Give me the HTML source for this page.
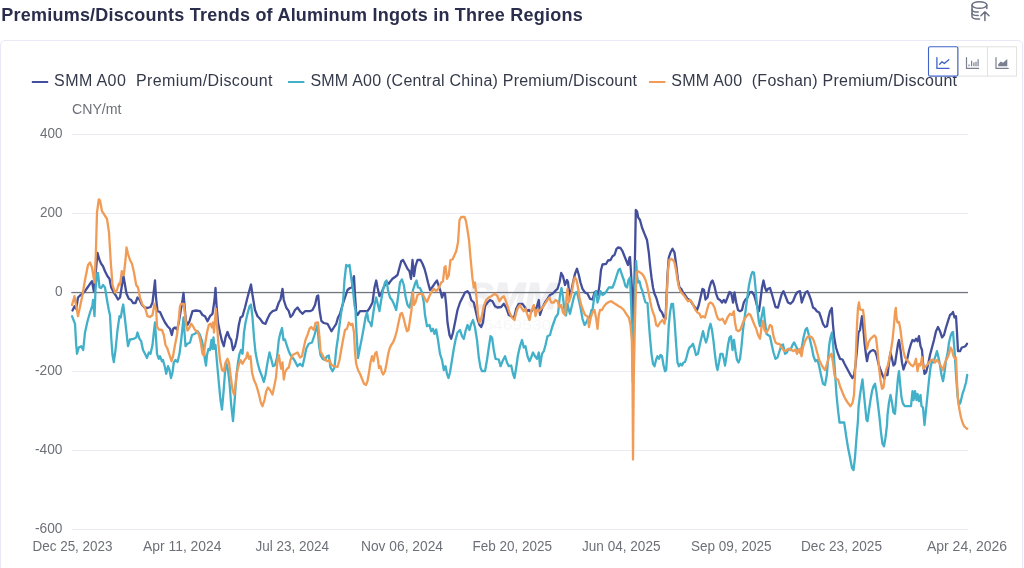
<!DOCTYPE html>
<html lang="en"><head><meta charset="utf-8"><title>Premiums/Discounts Trends of Aluminum Ingots in Three Regions</title>
<style>
html,body{margin:0;padding:0;background:#fff;}
body{width:1024px;height:568px;overflow:hidden;position:relative;font-family:"Liberation Sans",sans-serif;}
.card{position:absolute;left:0;top:40px;width:1021px;height:560px;border:1px solid #e9e9f6;border-radius:5px;background:#fff;}
.chart{position:absolute;left:0;top:0;}
.chart text{font-family:"Liberation Sans",sans-serif;}
.ax{font-size:14.4px;fill:#6e7079;}
.lg{font-size:16px;fill:#353a4a;}
.ttl{font-size:18px;font-weight:bold;fill:#2a2d4b;}
</style></head><body>
<div class="card"></div>
<svg class="chart" width="1024" height="568" viewBox="0 0 1024 568">
<rect x="72" y="134" width="896" height="1" fill="#ebebf6"/>
<rect x="72" y="213" width="896" height="1" fill="#ebebf6"/>
<rect x="72" y="371" width="896" height="1" fill="#ebebf6"/>
<rect x="72" y="450" width="896" height="1" fill="#ebebf6"/>
<rect x="72" y="529" width="896" height="1" fill="#ebebf6"/>
<text x="468" y="309" font-weight="bold" font-style="italic" font-size="37" fill="#f0f0f3" stroke="#f0f0f3" stroke-width="1.2" textLength="89" lengthAdjust="spacingAndGlyphs">SMM</text>
<text x="464" y="329.5" font-size="14" fill="#f7f7f8" textLength="97" lengthAdjust="spacingAndGlyphs">1064695306</text>
<rect x="71.3" y="291.9" width="896.7" height="1.3" fill="#71737d"/>
<text x="40.0" y="137.6" class="ax" textLength="22.5" lengthAdjust="spacingAndGlyphs">400</text>
<text x="40.0" y="216.6" class="ax" textLength="22.5" lengthAdjust="spacingAndGlyphs">200</text>
<text x="54.9" y="295.6" class="ax" textLength="7.6" lengthAdjust="spacingAndGlyphs">0</text>
<text x="35.0" y="374.6" class="ax" textLength="27.5" lengthAdjust="spacingAndGlyphs">-200</text>
<text x="35.0" y="453.6" class="ax" textLength="27.5" lengthAdjust="spacingAndGlyphs">-400</text>
<text x="35.0" y="532.6" class="ax" textLength="27.5" lengthAdjust="spacingAndGlyphs">-600</text>
<text x="32.5" y="550.5" class="ax" textLength="80.0" lengthAdjust="spacingAndGlyphs">Dec 25, 2023</text>
<text x="143" y="550.5" class="ax" textLength="78.5" lengthAdjust="spacingAndGlyphs">Apr 11, 2024</text>
<text x="255.5" y="550.5" class="ax" textLength="73.5" lengthAdjust="spacingAndGlyphs">Jul 23, 2024</text>
<text x="361" y="550.5" class="ax" textLength="82" lengthAdjust="spacingAndGlyphs">Nov 06, 2024</text>
<text x="472.5" y="550.5" class="ax" textLength="79.5" lengthAdjust="spacingAndGlyphs">Feb 20, 2025</text>
<text x="582" y="550.5" class="ax" textLength="78.5" lengthAdjust="spacingAndGlyphs">Jun 04, 2025</text>
<text x="691" y="550.5" class="ax" textLength="80.5" lengthAdjust="spacingAndGlyphs">Sep 09, 2025</text>
<text x="801" y="550.5" class="ax" textLength="81" lengthAdjust="spacingAndGlyphs">Dec 23, 2025</text>
<text x="927" y="550.5" class="ax" textLength="80" lengthAdjust="spacingAndGlyphs">Apr 24, 2026</text>
<text x="72" y="114.3" class="ax" textLength="49.5" lengthAdjust="spacingAndGlyphs">CNY/mt</text>
<path d="M72.5,310.5 L74.5,306.2 L76.2,308.8 L78.0,297.5 L80.0,295.5 L82.5,293.8 L85.0,291.2 L87.5,287.5 L90.0,283.8 L92.0,281.2 L93.8,291.2 L95.5,275.0 L97.5,253.0 L99.5,260.0 L101.2,263.8 L103.0,266.2 L105.0,271.2 L107.5,276.2 L109.5,278.8 L111.2,287.5 L113.8,292.5 L116.2,296.2 L118.0,299.5 L120.0,297.5 L122.0,285.0 L123.5,276.2 L125.0,285.0 L126.5,293.8 L128.8,298.8 L131.2,300.0 L133.0,303.0 L135.5,303.0 L137.5,297.5 L139.5,299.5 L142.0,305.0 L144.5,307.5 L147.5,308.0 L150.5,307.0 L152.5,302.5 L153.8,291.2 L155.0,280.5 L156.0,297.5 L157.5,311.2 L160.0,312.0 L162.5,317.5 L165.0,322.5 L167.5,326.2 L170.0,328.8 L171.8,335.0 L173.2,328.8 L175.0,327.5 L177.0,329.5 L178.8,322.5 L180.0,315.0 L182.5,300.0 L183.5,293.0 L184.5,305.0 L185.8,320.0 L187.5,325.0 L189.5,321.2 L192.5,311.2 L196.2,310.5 L200.0,311.2 L202.5,315.0 L205.0,316.2 L207.5,321.2 L210.0,316.2 L212.5,313.8 L214.5,300.0 L215.5,288.0 L216.5,305.0 L218.0,322.5 L220.0,332.5 L222.0,341.2 L223.8,346.2 L225.5,337.5 L227.5,332.0 L229.5,337.5 L231.2,340.0 L233.0,350.0 L235.0,346.2 L237.0,337.5 L238.8,325.0 L240.5,317.5 L242.5,316.2 L245.0,307.5 L247.5,297.5 L249.5,290.0 L251.0,284.5 L252.5,295.0 L255.0,310.0 L257.5,316.2 L260.0,318.8 L263.0,323.0 L265.5,323.8 L267.5,318.8 L270.0,313.8 L272.5,311.2 L276.2,310.0 L278.8,302.5 L280.5,299.5 L282.5,288.8 L283.8,300.0 L286.2,307.5 L288.8,311.2 L290.5,317.0 L292.5,315.0 L295.0,310.0 L297.5,307.5 L300.0,311.2 L302.5,313.8 L305.0,311.2 L310.0,311.2 L312.5,310.0 L315.0,305.0 L317.0,296.2 L318.2,295.5 L319.5,310.0 L321.2,320.0 L321.5,321.2 L323.8,323.0 L327.5,323.8 L329.5,327.5 L331.5,331.2 L333.8,327.5 L336.2,323.8 L338.0,317.5 L340.0,313.8 L342.5,305.0 L345.0,297.5 L347.5,290.0 L350.0,288.0 L352.0,287.5 L353.2,278.8 L354.0,276.2 L355.0,295.0 L356.2,312.5 L357.5,315.0 L360.0,311.2 L367.5,311.2 L370.0,307.5 L372.5,302.5 L374.5,287.5 L376.2,280.5 L377.5,287.5 L379.5,296.2 L381.2,293.8 L383.0,288.8 L385.0,285.0 L387.0,282.0 L388.8,283.8 L390.5,281.2 L392.5,278.8 L395.0,277.0 L397.5,275.0 L399.5,267.5 L401.2,261.2 L403.0,260.0 L405.0,263.8 L407.5,268.8 L409.5,271.2 L411.0,278.8 L412.5,260.0 L414.0,276.2 L415.5,266.2 L417.5,260.0 L420.5,260.0 L422.5,263.8 L424.5,268.8 L426.2,275.0 L428.0,282.5 L430.0,290.0 L432.0,287.5 L434.5,283.8 L437.0,280.5 L438.8,286.2 L440.5,291.2 L442.0,297.5 L443.8,293.0 L445.0,293.8 L446.2,305.0 L447.5,322.5 L449.5,335.0 L451.2,338.8 L453.0,332.5 L455.0,322.5 L457.5,310.0 L460.0,302.5 L462.5,297.5 L465.0,292.5 L467.5,291.2 L469.5,293.8 L471.2,300.0 L473.8,302.5 L475.5,310.0 L477.5,318.8 L479.5,325.0 L481.2,327.0 L483.0,322.5 L485.0,306.2 L487.5,302.5 L490.0,300.0 L492.5,301.2 L495.0,306.2 L497.5,307.5 L501.2,307.0 L503.8,303.8 L506.2,307.5 L508.8,315.0 L511.2,316.2 L513.8,318.8 L516.2,308.8 L518.8,303.8 L522.5,303.8 L525.0,307.5 L527.0,311.2 L528.8,310.0 L531.2,312.0 L533.8,307.5 L536.2,308.8 L538.8,300.0 L540.0,315.0 L542.5,307.5 L545.0,302.5 L547.5,298.8 L550.0,295.0 L552.5,293.8 L555.0,291.2 L557.5,288.8 L559.5,282.5 L561.2,273.0 L563.0,276.2 L565.0,285.0 L567.0,280.0 L568.0,282.0 L569.5,296.2 L571.2,291.2 L573.0,282.5 L575.0,273.8 L577.0,268.8 L578.8,275.0 L580.5,282.5 L582.5,288.8 L585.0,292.5 L587.5,293.8 L590.0,298.8 L592.5,299.5 L594.5,292.5 L596.2,291.2 L598.0,295.0 L599.5,285.0 L601.0,270.0 L602.5,264.5 L606.2,263.8 L608.0,260.5 L610.5,260.0 L612.5,256.2 L614.5,255.0 L616.5,248.8 L618.0,247.5 L620.5,248.0 L622.5,251.2 L624.5,256.2 L626.5,261.2 L628.0,265.0 L629.5,257.5 L630.0,257.0 L631.0,272.5 L632.0,290.0 L632.8,320.0 L633.1,352.5 L633.5,320.0 L634.5,280.0 L635.2,245.0 L635.8,210.0 L637.0,211.2 L638.2,217.5 L640.0,220.0 L642.0,227.5 L644.5,233.8 L647.0,240.0 L648.8,252.5 L650.0,265.0 L651.5,277.5 L653.0,287.5 L654.5,293.8 L656.2,297.5 L658.0,303.8 L660.0,310.0 L662.0,312.5 L663.8,317.0 L665.5,318.8 L666.2,305.0 L667.5,275.0 L668.8,257.5 L670.5,252.5 L672.5,248.8 L674.5,252.5 L676.2,265.0 L678.0,280.0 L679.5,287.5 L681.2,288.8 L683.0,292.5 L685.0,295.0 L687.5,298.8 L690.0,300.0 L692.5,303.8 L695.0,307.5 L697.0,310.0 L698.8,305.0 L700.5,297.5 L702.5,288.8 L704.0,290.0 L705.5,299.5 L707.5,297.5 L709.5,287.5 L711.2,282.0 L712.5,280.5 L714.5,286.2 L716.2,293.8 L718.0,298.8 L720.0,300.0 L722.0,302.5 L723.8,300.0 L725.5,302.5 L727.5,297.5 L729.5,292.0 L731.2,293.0 L733.0,302.5 L734.5,292.5 L736.2,302.5 L738.0,310.0 L740.0,311.2 L742.0,310.0 L743.8,302.5 L745.5,299.5 L747.5,297.5 L749.5,292.5 L752.0,292.0 L754.0,295.0 L755.5,300.0 L757.5,307.5 L759.0,311.2 L760.5,300.0 L762.0,287.5 L763.5,280.5 L765.0,287.5 L766.5,291.2 L768.0,288.8 L770.0,288.0 L771.8,293.8 L773.5,300.0 L775.5,307.0 L778.0,307.5 L780.0,300.0 L781.8,293.8 L783.5,291.2 L785.5,296.2 L788.0,302.5 L790.5,303.8 L793.0,301.2 L795.5,295.0 L797.5,292.0 L800.0,291.2 L801.8,302.5 L803.5,297.5 L805.5,292.5 L807.5,291.2 L809.2,295.0 L811.0,300.0 L813.0,307.5 L815.0,308.8 L816.8,311.2 L819.2,312.5 L821.0,317.5 L823.0,323.8 L825.0,327.0 L827.0,326.2 L828.5,317.5 L830.0,311.2 L831.8,308.0 L833.0,325.0 L834.2,337.5 L836.0,347.5 L838.0,353.8 L840.0,358.8 L842.5,359.5 L844.5,363.8 L846.5,367.5 L848.5,371.2 L850.5,375.0 L852.5,378.0 L854.2,375.0 L855.5,365.0 L857.0,350.0 L858.5,332.5 L860.0,330.0 L861.0,322.5 L862.0,316.2 L863.0,325.0 L864.5,342.5 L866.0,355.0 L867.0,361.2 L868.5,353.8 L870.5,351.2 L873.0,350.0 L875.0,351.2 L876.8,356.2 L878.5,363.8 L880.5,370.0 L882.5,375.0 L884.2,378.8 L886.0,373.8 L887.5,375.0 L889.0,362.5 L890.5,352.5 L892.0,358.8 L893.5,365.5 L895.0,363.8 L896.5,353.8 L898.0,343.8 L899.0,340.0 L900.5,350.0 L902.0,362.5 L903.5,369.5 L905.0,365.0 L907.0,360.0 L909.2,350.0 L911.0,343.8 L912.5,340.0 L914.5,341.2 L916.0,338.8 L917.5,341.2 L919.0,336.2 L920.5,346.2 L922.0,350.0 L923.0,362.5 L924.5,373.8 L926.0,372.5 L928.0,365.0 L930.0,355.0 L932.0,347.5 L934.0,340.0 L936.0,331.2 L938.0,327.0 L940.0,331.2 L942.0,337.5 L944.0,335.0 L946.0,327.5 L948.0,321.2 L950.0,315.0 L951.8,313.8 L953.0,312.0 L954.5,317.5 L956.0,316.2 L957.0,332.5 L958.0,351.2 L960.0,351.2 L961.8,347.5 L963.5,347.0 L965.5,346.2 L967.0,343.8" fill="none" stroke="#434f9b" stroke-width="2.3" stroke-linejoin="round" stroke-linecap="round"/>
<path d="M72.0,316.2 L75.0,323.8 L76.2,345.0 L77.0,353.8 L78.8,347.5 L81.2,346.2 L83.2,350.0 L85.0,332.5 L87.5,321.2 L90.0,312.5 L92.5,305.0 L93.0,300.0 L94.5,316.2 L95.5,290.0 L97.0,273.8 L98.0,273.0 L99.5,287.5 L101.2,288.0 L103.0,285.0 L105.0,287.5 L107.0,300.0 L108.8,310.0 L110.0,315.0 L111.2,337.5 L112.5,355.0 L113.8,362.0 L115.5,350.0 L117.5,330.0 L119.5,316.2 L120.8,317.5 L122.0,310.0 L123.2,304.5 L124.5,315.0 L126.2,330.0 L128.0,346.2 L130.0,339.5 L133.8,338.8 L136.2,337.5 L137.5,332.5 L139.5,338.8 L141.2,341.2 L143.0,350.0 L145.0,353.8 L147.0,358.0 L148.8,352.5 L150.5,353.8 L152.5,345.0 L153.8,332.5 L155.0,322.5 L156.0,337.5 L157.0,353.8 L158.8,358.8 L160.0,356.2 L162.0,361.2 L163.0,360.0 L165.0,367.5 L166.2,373.8 L168.0,366.2 L169.5,370.0 L171.0,378.0 L172.5,372.5 L173.8,362.5 L175.5,360.0 L177.5,362.0 L179.5,353.8 L181.2,340.0 L182.5,327.5 L183.5,317.5 L184.5,332.5 L185.5,346.2 L187.5,343.8 L190.0,342.5 L192.0,335.0 L195.0,333.8 L197.5,331.2 L200.0,335.0 L202.0,341.2 L203.8,350.0 L205.0,360.0 L206.0,365.5 L207.0,355.0 L208.5,348.8 L210.0,350.0 L211.5,340.0 L212.5,348.8 L213.5,337.5 L214.5,348.8 L215.5,345.0 L217.0,362.5 L218.8,382.5 L220.5,400.0 L222.0,409.5 L223.5,392.5 L225.0,372.5 L226.2,362.5 L228.0,370.0 L229.5,382.5 L231.2,405.0 L233.0,421.2 L234.5,402.5 L236.2,377.5 L238.0,362.5 L239.5,353.8 L241.0,350.0 L242.5,353.8 L244.0,332.5 L245.5,322.5 L247.5,313.8 L249.5,306.2 L251.0,304.5 L252.5,317.5 L254.0,337.5 L255.5,352.5 L257.5,362.5 L259.5,370.0 L261.5,375.0 L263.8,382.0 L265.5,375.0 L267.5,362.5 L269.5,352.5 L271.2,358.8 L273.0,366.2 L275.0,365.0 L277.0,357.5 L278.8,340.0 L280.5,332.5 L282.0,328.0 L283.5,340.0 L285.0,339.5 L287.0,346.2 L288.8,351.2 L290.5,355.0 L292.5,357.5 L295.0,361.2 L297.5,366.2 L300.0,363.8 L302.5,366.2 L304.5,357.5 L306.2,348.8 L308.8,343.8 L312.0,342.5 L314.5,335.0 L316.2,328.8 L317.5,325.0 L319.0,345.0 L320.5,355.0 L322.5,358.8 L325.0,360.0 L327.0,356.2 L328.8,355.5 L330.5,367.5 L332.5,371.2 L334.5,367.5 L336.2,350.0 L338.0,337.5 L339.5,325.0 L341.2,312.5 L343.0,302.5 L344.5,280.0 L346.2,265.0 L348.0,266.2 L349.5,265.0 L351.2,277.5 L353.0,290.0 L354.5,305.0 L355.5,310.0 L356.5,332.5 L358.0,358.0 L360.0,347.5 L362.0,337.5 L363.8,327.5 L365.5,317.5 L367.0,312.5 L368.5,321.2 L370.0,322.5 L371.5,326.2 L373.0,315.0 L374.5,305.0 L376.2,297.5 L378.0,305.0 L379.5,311.2 L381.2,300.0 L383.0,290.0 L385.0,282.5 L386.5,280.5 L388.0,290.0 L390.0,297.5 L392.0,300.0 L393.8,303.8 L396.2,310.0 L398.0,297.5 L400.0,282.5 L402.0,279.5 L403.8,285.0 L405.5,296.2 L407.5,305.0 L409.5,307.5 L411.2,300.0 L413.0,290.0 L415.0,283.8 L416.5,280.5 L418.0,287.5 L420.0,288.0 L422.0,292.5 L423.8,302.5 L425.0,315.0 L427.0,326.2 L429.5,325.0 L431.2,331.2 L433.0,328.8 L434.5,333.8 L436.2,329.5 L438.0,340.0 L440.0,353.8 L442.0,360.0 L443.8,370.0 L445.5,366.2 L447.0,373.8 L448.5,378.0 L450.0,372.5 L452.0,360.0 L453.8,348.8 L455.5,340.0 L457.5,332.5 L460.0,330.0 L462.0,336.2 L463.8,338.8 L465.5,331.2 L467.5,325.0 L469.5,330.0 L471.2,323.8 L473.0,320.0 L475.0,327.5 L477.0,340.0 L478.8,357.5 L480.5,367.5 L482.0,371.2 L485.0,371.2 L487.0,360.0 L488.8,347.5 L490.5,336.2 L492.0,337.5 L493.8,350.0 L495.5,358.8 L498.8,359.5 L500.5,366.2 L502.5,361.2 L505.0,356.2 L507.0,362.5 L508.8,366.2 L511.2,365.5 L513.0,373.8 L514.5,378.0 L516.2,367.5 L518.0,355.0 L520.0,346.2 L522.0,340.0 L523.8,347.5 L525.5,346.2 L527.5,356.2 L529.5,361.2 L531.2,357.5 L533.0,352.5 L535.0,356.2 L537.0,358.8 L538.8,352.5 L540.0,366.2 L542.0,353.8 L543.8,351.2 L545.5,345.0 L547.5,336.2 L550.0,335.0 L552.0,327.5 L553.8,322.5 L555.5,317.5 L558.0,313.8 L560.0,295.0 L561.5,288.0 L563.0,297.5 L564.5,310.0 L566.0,315.5 L567.5,303.8 L568.8,310.0 L570.0,313.8 L572.0,305.0 L573.8,297.5 L575.5,292.5 L577.0,292.0 L578.8,300.0 L580.5,307.5 L582.5,318.8 L584.5,325.0 L586.2,322.5 L588.0,318.8 L590.0,316.2 L591.5,310.0 L592.5,310.0 L594.5,295.0 L596.0,291.2 L597.5,302.5 L599.0,297.5 L600.5,291.2 L602.5,295.0 L604.5,293.8 L606.5,291.2 L608.8,287.5 L612.5,287.5 L614.5,282.5 L616.5,276.2 L618.5,270.0 L620.0,268.8 L622.0,275.0 L623.8,280.0 L625.5,286.2 L627.0,287.5 L628.5,280.0 L630.0,277.5 L631.0,300.0 L631.8,322.0 L632.4,355.0 L632.8,382.5 L633.2,355.0 L634.2,322.0 L635.2,285.0 L636.2,261.2 L637.0,275.0 L638.0,282.5 L639.5,281.2 L641.0,287.5 L642.5,291.2 L644.0,297.5 L645.5,302.5 L647.5,303.0 L649.0,325.0 L650.0,337.5 L651.5,353.8 L653.0,363.8 L654.5,366.2 L656.0,360.0 L657.5,356.2 L659.0,358.8 L660.5,355.0 L662.0,356.2 L663.5,365.0 L665.0,371.2 L666.2,370.0 L667.5,350.0 L668.8,325.0 L670.0,312.5 L671.5,303.8 L673.0,303.8 L674.5,320.0 L676.0,342.5 L677.5,362.5 L679.0,366.2 L680.5,363.8 L682.0,365.5 L683.5,362.5 L685.0,362.0 L686.5,357.5 L688.0,351.2 L689.5,347.5 L691.2,346.2 L693.0,343.8 L694.5,348.8 L696.0,355.0 L698.0,353.8 L700.0,343.8 L701.5,337.5 L703.0,331.2 L704.5,337.5 L706.0,342.5 L707.5,337.5 L709.0,328.8 L710.5,323.8 L712.0,330.0 L713.5,341.2 L715.0,355.0 L716.5,366.2 L717.5,370.0 L719.0,362.5 L720.5,353.8 L722.5,353.8 L724.0,360.0 L725.0,365.5 L726.5,356.2 L728.0,345.0 L729.5,337.5 L731.0,336.2 L732.5,350.0 L734.0,340.0 L735.5,351.2 L737.0,360.0 L738.5,362.5 L740.0,358.8 L741.5,346.2 L743.0,330.0 L744.0,322.0 L745.0,315.0 L747.0,300.0 L749.0,285.0 L751.2,275.0 L752.5,272.0 L754.0,272.5 L755.5,287.5 L757.0,305.0 L758.8,321.2 L760.0,326.2 L761.5,317.5 L763.5,307.5 L765.0,322.0 L766.5,333.8 L768.0,335.0 L770.0,336.2 L771.8,345.0 L773.5,352.5 L775.5,358.8 L777.5,357.5 L779.5,351.2 L781.5,345.0 L783.0,344.5 L785.0,353.8 L786.8,352.5 L788.5,348.8 L790.5,350.0 L792.5,345.0 L794.2,342.5 L796.0,346.2 L798.0,350.0 L800.0,352.5 L801.8,347.5 L803.5,337.5 L805.5,329.5 L807.0,328.0 L808.5,333.8 L810.0,340.0 L811.8,347.5 L813.5,356.2 L815.5,361.2 L817.5,360.0 L819.2,366.2 L821.0,375.0 L823.0,383.8 L825.0,385.0 L826.8,375.0 L828.0,360.0 L829.2,345.0 L830.5,337.5 L832.0,332.5 L833.5,350.0 L835.0,372.5 L836.5,395.0 L838.0,410.0 L839.5,422.5 L844.2,422.5 L846.0,435.0 L848.0,447.5 L850.0,457.5 L852.0,468.0 L853.5,470.0 L855.0,457.5 L856.5,437.5 L858.0,420.0 L858.5,407.5 L860.0,395.0 L861.5,385.0 L862.5,379.5 L863.5,390.0 L865.0,405.0 L866.5,420.0 L867.5,421.2 L869.0,410.0 L870.5,400.0 L872.0,391.2 L873.5,386.2 L875.0,383.8 L876.5,392.5 L878.0,405.0 L879.5,417.5 L881.0,432.5 L882.5,443.8 L884.0,446.2 L885.5,437.5 L887.0,425.0 L887.5,415.0 L889.0,402.5 L890.5,395.0 L892.0,402.5 L893.5,412.5 L895.0,413.8 L896.5,395.0 L898.0,377.5 L899.0,371.2 L900.0,382.5 L901.5,397.5 L903.0,403.8 L905.0,406.2 L908.0,406.2 L911.0,406.2 L912.5,391.2 L913.5,400.0 L915.0,391.2 L916.5,400.0 L917.5,393.8 L919.0,401.2 L920.5,395.0 L921.5,406.2 L923.0,407.5 L924.5,425.0 L926.0,410.0 L927.5,395.0 L929.0,380.0 L930.5,367.5 L932.0,361.2 L933.5,362.5 L935.0,357.5 L937.0,351.2 L938.5,357.5 L940.0,365.0 L941.5,375.0 L943.0,381.2 L944.5,372.5 L946.0,360.0 L947.5,353.8 L949.0,342.5 L950.5,336.2 L952.0,332.5 L953.0,332.0 L954.5,350.0 L956.0,375.0 L957.5,395.0 L959.0,405.0 L960.5,402.5 L962.5,393.8 L964.2,388.8 L966.0,382.5 L967.2,375.0" fill="none" stroke="#41b0c8" stroke-width="2.3" stroke-linejoin="round" stroke-linecap="round"/>
<path d="M72.0,305.0 L74.5,296.2 L78.0,316.2 L82.5,295.0 L85.0,280.0 L88.0,265.0 L90.0,262.5 L92.0,267.5 L94.5,282.5 L95.8,255.0 L97.0,212.5 L98.8,199.5 L100.0,200.5 L102.0,211.2 L104.5,215.0 L107.0,218.8 L109.0,232.5 L110.8,262.5 L112.5,285.0 L115.0,292.5 L117.0,290.0 L118.8,283.8 L120.0,285.0 L121.8,271.2 L123.8,275.0 L125.5,260.0 L126.5,247.5 L128.0,253.8 L130.0,260.0 L132.0,263.8 L134.0,272.5 L136.2,285.0 L138.0,287.5 L140.0,297.5 L142.5,305.0 L145.0,307.5 L147.5,316.2 L150.0,317.0 L152.5,315.0 L154.5,303.8 L156.2,310.0 L157.0,326.2 L158.8,329.5 L162.0,330.0 L163.8,335.0 L165.5,345.0 L167.5,348.8 L169.5,355.0 L171.5,361.2 L173.0,356.2 L175.0,345.0 L177.0,335.0 L178.5,322.5 L180.0,306.2 L181.2,303.8 L183.8,303.8 L185.0,315.0 L186.2,325.0 L187.5,330.5 L189.5,327.5 L191.2,323.8 L193.0,326.2 L195.0,330.0 L197.0,331.2 L199.0,335.0 L201.0,343.8 L202.5,353.8 L203.8,355.5 L205.0,345.0 L207.0,332.5 L208.8,325.0 L210.5,323.8 L212.0,327.5 L213.0,322.5 L214.0,332.5 L215.0,320.0 L216.0,308.8 L217.0,325.0 L218.5,345.0 L220.0,360.0 L222.0,370.0 L223.8,371.2 L225.5,362.5 L227.5,358.8 L229.0,362.5 L230.5,375.0 L232.5,390.0 L234.0,394.5 L235.5,385.0 L237.0,372.5 L238.8,365.0 L240.5,360.0 L242.5,363.8 L244.5,360.0 L246.2,358.0 L247.5,352.5 L249.0,358.8 L250.5,356.2 L252.0,372.5 L253.8,379.5 L256.2,385.0 L258.8,393.8 L260.8,402.5 L262.5,406.2 L264.5,400.0 L266.2,391.2 L268.0,387.5 L270.0,390.0 L272.5,394.5 L274.5,385.0 L276.0,377.5 L277.5,360.0 L278.8,355.0 L280.0,362.5 L281.2,368.8 L282.5,362.5 L283.8,379.5 L285.0,372.5 L287.0,368.8 L288.8,367.5 L290.5,360.0 L292.5,355.0 L295.0,353.8 L297.5,352.5 L300.0,357.5 L302.0,356.2 L303.8,347.5 L305.5,340.0 L307.5,335.0 L309.5,328.8 L311.2,327.0 L313.8,330.0 L315.5,323.0 L318.0,322.5 L319.5,337.5 L320.5,351.2 L322.5,355.0 L324.5,358.8 L327.0,361.2 L329.5,360.0 L331.2,364.5 L333.8,366.2 L337.5,367.0 L339.5,360.0 L341.2,350.0 L343.0,340.0 L345.0,330.0 L347.0,328.8 L348.8,322.5 L350.8,325.0 L352.5,323.8 L354.0,332.5 L355.0,352.5 L356.2,363.8 L358.0,370.0 L360.0,373.8 L362.0,378.8 L364.0,383.8 L366.0,385.0 L367.5,381.2 L369.0,372.5 L370.5,362.5 L372.0,356.2 L373.5,361.2 L375.0,353.8 L376.5,352.0 L378.0,360.0 L379.0,368.0 L380.5,366.2 L382.0,372.5 L383.2,374.5 L385.0,371.2 L386.5,363.8 L388.0,355.0 L389.5,348.8 L391.2,345.0 L393.0,342.5 L395.0,337.5 L397.0,330.0 L398.8,321.2 L400.5,313.8 L402.0,313.0 L403.8,318.8 L405.5,326.2 L407.0,331.2 L408.5,330.0 L410.0,320.0 L411.5,310.0 L412.0,297.5 L413.0,292.5 L414.0,305.0 L415.5,302.5 L417.5,295.0 L420.0,293.8 L422.5,293.8 L425.0,298.8 L427.0,302.0 L428.8,297.5 L431.2,292.5 L433.8,288.8 L436.2,291.2 L438.8,288.0 L441.2,282.5 L443.0,281.2 L444.5,267.5 L445.5,266.2 L447.0,278.8 L448.8,275.0 L450.5,260.0 L452.5,259.5 L454.5,255.0 L456.2,251.2 L458.0,242.5 L459.5,220.0 L461.2,217.0 L464.5,217.0 L466.0,221.2 L467.5,230.0 L469.0,240.0 L470.5,257.5 L472.5,278.8 L473.8,287.5 L475.0,282.5 L476.5,297.5 L478.0,315.0 L479.5,322.5 L480.5,321.2 L482.0,315.0 L483.8,306.2 L486.2,300.0 L488.8,297.5 L491.2,296.2 L493.0,295.0 L495.0,293.8 L497.5,296.2 L499.5,301.2 L502.0,297.5 L503.8,296.2 L505.5,300.0 L507.5,306.2 L509.5,312.5 L512.0,317.5 L514.5,320.0 L516.2,312.5 L518.0,307.5 L520.0,305.0 L522.0,308.8 L523.8,311.2 L525.5,308.8 L527.5,315.0 L529.5,320.0 L531.2,311.2 L533.8,305.0 L535.5,316.2 L537.0,310.0 L538.8,311.2 L540.0,310.0 L542.5,307.5 L545.0,303.8 L547.5,300.0 L549.5,297.5 L551.2,302.5 L553.8,302.5 L555.5,300.0 L557.5,301.2 L559.5,307.5 L561.2,305.0 L563.0,312.5 L565.0,315.0 L566.5,297.5 L567.5,288.8 L568.8,302.5 L570.5,297.5 L572.0,291.2 L573.8,280.0 L575.0,277.5 L576.5,280.0 L578.0,287.5 L579.5,297.5 L581.2,305.0 L583.0,310.0 L585.0,315.0 L587.5,316.2 L589.0,327.0 L590.8,317.5 L592.5,312.5 L594.5,310.0 L596.2,318.8 L597.5,328.8 L598.8,315.0 L600.0,310.0 L602.0,310.0 L604.0,306.2 L606.2,303.8 L608.8,302.0 L611.2,301.2 L613.8,303.0 L616.2,304.5 L618.8,306.2 L621.2,307.5 L623.8,310.0 L626.2,313.8 L628.8,317.5 L630.5,325.0 L631.8,340.0 L632.5,375.0 L633.0,459.5 L633.8,375.0 L635.0,320.0 L635.8,292.5 L636.5,272.5 L638.0,271.2 L640.0,272.5 L642.0,273.8 L643.8,276.2 L645.5,280.0 L647.0,285.0 L648.5,292.5 L650.0,300.0 L651.5,307.5 L653.0,312.5 L654.5,316.2 L656.2,325.0 L658.0,326.2 L660.0,322.5 L662.5,320.0 L664.5,323.8 L666.0,315.0 L667.0,290.0 L668.0,270.0 L669.5,259.5 L671.2,258.8 L673.0,260.0 L674.5,262.5 L676.0,270.0 L677.5,280.0 L679.0,287.5 L680.5,291.2 L682.5,293.8 L684.5,296.2 L686.2,298.8 L688.0,301.2 L690.0,300.0 L692.0,302.5 L693.8,306.2 L695.5,310.0 L697.5,312.5 L699.5,313.8 L701.2,317.5 L703.0,316.2 L705.0,317.5 L707.0,310.0 L708.8,303.8 L710.5,302.5 L712.5,303.8 L714.5,307.5 L716.2,313.8 L718.0,318.8 L720.0,320.0 L722.5,318.8 L725.0,323.8 L727.5,317.5 L730.0,313.8 L732.0,315.0 L733.8,311.2 L735.0,322.5 L736.5,330.0 L738.5,331.2 L740.5,329.5 L742.5,323.8 L744.5,318.8 L746.5,316.2 L748.8,313.8 L750.5,315.0 L752.5,320.0 L754.5,325.0 L756.2,328.8 L758.0,335.0 L760.0,338.8 L761.5,327.5 L763.0,321.2 L764.5,330.0 L766.0,332.5 L768.0,330.0 L770.0,325.0 L771.8,326.2 L773.5,336.2 L775.5,342.5 L777.5,343.8 L779.5,343.8 L781.5,347.5 L783.5,350.0 L785.5,351.2 L787.5,349.5 L789.5,348.8 L791.5,350.0 L793.5,351.2 L795.5,349.5 L797.0,353.8 L798.5,350.0 L800.0,348.8 L801.5,356.2 L803.0,347.5 L805.0,341.2 L807.0,337.5 L809.2,336.2 L811.5,337.0 L813.5,340.0 L815.5,346.2 L817.5,353.8 L819.2,360.0 L821.0,363.8 L823.0,367.5 L825.0,370.0 L827.0,363.8 L828.5,358.8 L830.0,355.5 L831.5,353.8 L833.0,362.5 L834.5,375.0 L836.0,378.8 L838.0,379.5 L840.0,386.2 L842.0,391.2 L844.0,396.2 L846.0,400.0 L848.0,403.0 L850.5,406.2 L852.5,403.0 L854.0,395.0 L855.0,375.0 L856.0,350.0 L857.0,325.0 L858.0,307.5 L859.0,302.5 L860.0,309.5 L861.5,310.0 L863.0,310.0 L864.0,317.5 L865.0,330.0 L866.0,341.2 L867.0,348.8 L868.5,342.5 L870.5,338.8 L872.5,337.0 L874.5,335.5 L876.0,337.5 L877.5,350.0 L879.0,367.5 L880.5,380.0 L882.0,388.8 L883.5,387.5 L885.0,375.0 L886.5,368.8 L888.0,365.0 L889.5,357.5 L891.0,350.0 L892.5,340.0 L894.0,325.0 L895.0,312.5 L895.8,308.0 L896.5,317.5 L897.5,322.5 L899.0,322.0 L900.5,330.0 L902.0,342.5 L903.5,351.2 L905.0,357.5 L907.0,360.0 L909.0,362.5 L911.0,365.0 L913.0,366.2 L914.5,363.8 L916.0,358.8 L917.5,371.2 L919.0,363.8 L920.5,365.5 L922.0,357.5 L923.5,368.8 L925.0,367.0 L927.0,365.0 L929.0,362.5 L931.0,360.0 L933.0,359.5 L935.0,362.5 L937.0,360.0 L939.0,362.5 L941.0,366.2 L943.0,370.0 L945.0,362.5 L947.0,358.8 L949.0,353.8 L950.5,347.5 L952.0,350.0 L953.5,356.2 L955.0,358.8 L956.0,357.5 L957.0,382.5 L958.0,400.0 L959.5,410.0 L961.0,417.5 L962.5,422.5 L964.2,426.2 L966.0,428.0 L967.2,428.8" fill="none" stroke="#f09c56" stroke-width="2.3" stroke-linejoin="round" stroke-linecap="round"/>
<text x="1.2" y="21.4" class="ttl" textLength="581.5" lengthAdjust="spacing">Premiums/Discounts Trends of Aluminum Ingots in Three Regions</text>
<rect x="31.8" y="81" width="16.4" height="2" rx="0.3" fill="#434f9b"/>
<text x="54.1" y="85.8" class="lg" textLength="218.4" lengthAdjust="spacing">SMM A00&#160; Premium/Discount</text>
<rect x="288.0" y="81" width="16.4" height="2" rx="0.3" fill="#41b0c8"/>
<text x="310.4" y="85.8" class="lg" textLength="326.6" lengthAdjust="spacing">SMM A00 (Central China) Premium/Discount</text>
<rect x="649.0" y="81" width="16.4" height="2" rx="0.3" fill="#f09c56"/>
<text x="671.3" y="85.8" class="lg" textLength="285.70000000000005" lengthAdjust="spacing">SMM A00&#160; (Foshan) Premium/Discount</text>
<g fill="none" stroke="#6c7181" stroke-width="1.5" stroke-linecap="round" stroke-linejoin="round"><ellipse cx="979.4" cy="5" rx="7.4" ry="3.3"/><path d="M972 5V16.4C972 17.9 975 19 979.6 19.1"/><path d="M986.8 5V8.4"/><path d="M972 9.4C972 10.9 975 12 978.2 12.1"/><path d="M972 13.2C972 14.6 975 15.5 978.2 15.6"/><path d="M984.9 20.4V12M980.9 15.8L984.9 11.8L989 15.8"/></g>
<rect x="958.5" y="46.8" width="29" height="29.3" fill="#fff" stroke="#e2e2e2" stroke-width="1"/>
<rect x="987.5" y="46.8" width="29" height="29.3" fill="#fff" stroke="#e2e2e2" stroke-width="1"/>
<rect x="928.5" y="46.8" width="29.3" height="29.3" rx="1.5" fill="#fff" stroke="#3f63c8" stroke-width="1.1"/>
<g fill="none" stroke="#3f63c8" stroke-width="1.3" stroke-linecap="round" stroke-linejoin="round"><path d="M936.9 57.6V68.4H949"/><path d="M939.6 64.2L942 61.8L944.3 63.6L948.8 59.7"/></g>
<g fill="none" stroke="#7a8090" stroke-width="1.2" stroke-linecap="round"><path d="M966.5 57.6V68.4H978.6"/><path d="M969 64.4V66.2M971.6 60.8V66.2M973.9 62.5V66.2M976 61.8V66.2M978.1 59.2V66.2" stroke-linecap="butt"/></g>
<g fill="none" stroke="#7a8090" stroke-width="1.2" stroke-linecap="round"><path d="M996 57.6V68.4H1008.2"/><path d="M998.2 66.3V64.2L1000.8 61.6L1003 62.8L1007.3 59V66.3Z" fill="#7a8090" stroke="none"/></g>
</svg>
</body></html>
